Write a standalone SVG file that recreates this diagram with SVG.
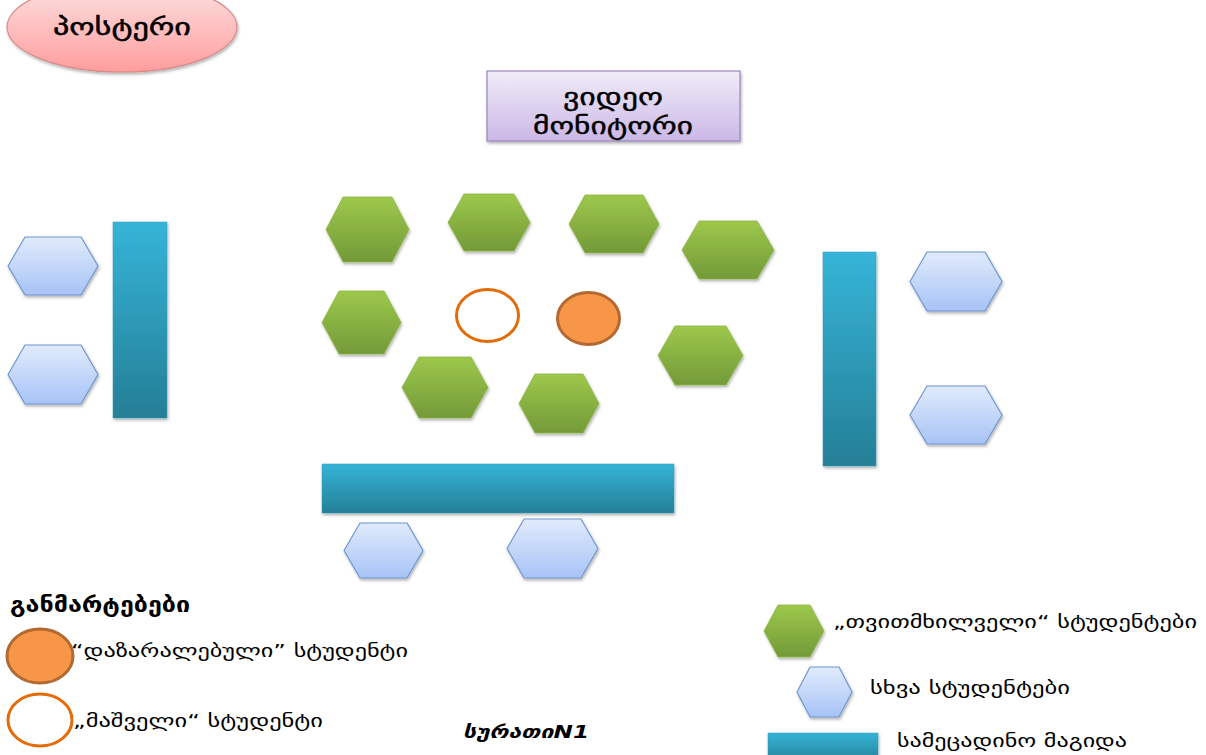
<svg xmlns="http://www.w3.org/2000/svg" width="1206" height="755" viewBox="0 0 1206 755">
<defs>
<linearGradient id="gGreen" x1="0" y1="0" x2="0" y2="1"><stop offset="0" stop-color="#9dc84b"/><stop offset="1" stop-color="#739a38"/></linearGradient>
<linearGradient id="gBlue" x1="0" y1="0" x2="0" y2="1"><stop offset="0" stop-color="#e1ebfc"/><stop offset="1" stop-color="#a7c3f6"/></linearGradient>
<linearGradient id="gTable" x1="0" y1="0" x2="0" y2="1"><stop offset="0" stop-color="#35b4d8"/><stop offset="1" stop-color="#257f96"/></linearGradient>
<linearGradient id="gPink" x1="0" y1="0" x2="0" y2="1"><stop offset="0" stop-color="#fde3e3"/><stop offset="1" stop-color="#ff9d9d"/></linearGradient>
<linearGradient id="gPurple" x1="0" y1="0" x2="0" y2="1"><stop offset="0" stop-color="#f1ecf9"/><stop offset="1" stop-color="#cbb8e6"/></linearGradient>
<filter id="sh" x="-10%" y="-10%" width="130%" height="130%"><feDropShadow dx="1" dy="2" stdDeviation="1.5" flood-color="#000" flood-opacity="0.3"/></filter>
</defs>
<style>
.txt{font-family:"DejaVu Sans","Noto Sans",sans-serif;fill:#000}
.green{fill:url(#gGreen);stroke:#8ab646;stroke-width:0.8;filter:url(#sh)}
.blue{fill:url(#gBlue);stroke:#6f96d0;stroke-width:1.2;filter:url(#sh)}
.table{fill:url(#gTable);stroke:#2f9ab8;stroke-width:0.5;filter:url(#sh)}
</style>
<rect width="1206" height="755" fill="#fff"/>
<g id="poster"><ellipse cx="122" cy="27" rx="115" ry="45" fill="url(#gPink)" stroke="#d98a89" stroke-width="1.2" filter="url(#sh)"/><text class="txt" x="122" y="35" font-size="24" stroke="#000" stroke-width="0.5" text-anchor="middle" textLength="138" lengthAdjust="spacingAndGlyphs">პოსტერი</text></g>
<g id="video-monitor"><rect x="487" y="71" width="253" height="70" fill="url(#gPurple)" stroke="#9a84bf" stroke-width="1.2" filter="url(#sh)"/><text class="txt" x="613" y="105" font-size="24" stroke="#000" stroke-width="0.4" text-anchor="middle" textLength="100" lengthAdjust="spacingAndGlyphs">ვიდეო</text><text class="txt" x="613" y="134" font-size="24" stroke="#000" stroke-width="0.4" text-anchor="middle" textLength="160" lengthAdjust="spacingAndGlyphs">მონიტორი</text></g>
<g id="green-1"><polygon class="green" points="326,229.5 343,197 392,197 409,229.5 392,262 343,262"/></g>
<g id="green-2"><polygon class="green" points="448,222.5 464,194 514,194 530,222.5 514,251 464,251"/></g>
<g id="green-3"><polygon class="green" points="569,224 585,195 643,195 659,224 643,253 585,253"/></g>
<g id="green-4"><polygon class="green" points="682,250 699,221 757,221 774,250 757,279 699,279"/></g>
<g id="green-5"><polygon class="green" points="322,322.5 339,291 384,291 401,322.5 384,354 339,354"/></g>
<g id="green-6"><polygon class="green" points="402,387.5 419,357 471,357 488,387.5 471,418 419,418"/></g>
<g id="green-7"><polygon class="green" points="519,403.5 535,374 583,374 599,403.5 583,433 535,433"/></g>
<g id="green-8"><polygon class="green" points="658,355.5 675,326 726,326 743,355.5 726,385 675,385"/></g>
<g id="rescuer"><ellipse cx="487.5" cy="315.5" rx="31" ry="26" fill="#fff" stroke="#e36c0a" stroke-width="3"/></g>
<g id="victim"><ellipse cx="588.5" cy="318.5" rx="31" ry="26" fill="#f79646" stroke="#b36a32" stroke-width="3"/></g>
<g id="table-left"><rect class="table" x="113" y="222" width="54" height="196"/></g>
<g id="blue-1"><polygon class="blue" points="8,266 25,237 81,237 98,266 81,295 25,295"/></g>
<g id="blue-2"><polygon class="blue" points="8,374.5 25,345 81,345 98,374.5 81,404 25,404"/></g>
<g id="table-right"><rect class="table" x="823" y="252" width="53" height="214"/></g>
<g id="blue-3"><polygon class="blue" points="910,281.5 927,252 985,252 1002,281.5 985,311 927,311"/></g>
<g id="blue-4"><polygon class="blue" points="910,415 927,386 985,386 1002,415 985,444 927,444"/></g>
<g id="table-bottom"><rect class="table" x="322" y="464" width="352" height="49"/></g>
<g id="blue-5"><polygon class="blue" points="344,550.5 360,523 407,523 423,550.5 407,578 360,578"/></g>
<g id="blue-6"><polygon class="blue" points="507,548.5 524,519 581,519 598,548.5 581,578 524,578"/></g>
<g id="connectors"/>
<g id="legend">
<text class="txt" x="10" y="612" font-size="21" font-weight="bold" textLength="180" lengthAdjust="spacingAndGlyphs">განმარტებები</text>
<ellipse cx="40" cy="656" rx="33" ry="27" fill="#f79646" stroke="#b36a32" stroke-width="3"/>
<text class="txt" x="71" y="657" font-size="18" textLength="337" lengthAdjust="spacingAndGlyphs">“დაზარალებული” სტუდენტი</text>
<ellipse cx="40" cy="720" rx="32" ry="26" fill="#fff" stroke="#e36c0a" stroke-width="3"/>
<text class="txt" x="73" y="727" font-size="18" textLength="250" lengthAdjust="spacingAndGlyphs">„მაშველი“ სტუდენტი</text>
<polygon class="green" points="764,631 778,605 810,605 824,631 810,657 778,657"/>
<text class="txt" x="833" y="628" font-size="18" textLength="364" lengthAdjust="spacingAndGlyphs">„თვითმხილველი“ სტუდენტები</text>
<polygon class="blue" points="797,692 810,667 839,667 852,692 839,717 810,717"/>
<text class="txt" x="870" y="694" font-size="18" textLength="200" lengthAdjust="spacingAndGlyphs">სხვა სტუდენტები</text>
<rect class="table" x="768" y="733" width="110" height="30"/>
<text class="txt" x="897" y="747" font-size="18" textLength="230" lengthAdjust="spacingAndGlyphs">სამეცადინო მაგიდა</text>
</g>
<g id="caption"><text class="txt" x="463" y="738" font-size="18" font-weight="bold" font-style="italic" textLength="126" lengthAdjust="spacingAndGlyphs">სურათიN1</text></g>
</svg>
